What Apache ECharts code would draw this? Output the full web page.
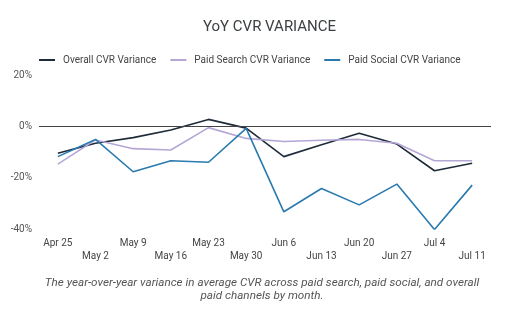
<!DOCTYPE html>
<html>
<head>
<meta charset="utf-8">
<script src="https://cdn.jsdelivr.net/npm/echarts@6/dist/echarts.min.js"></script>
<style>html,body{margin:0;padding:0;background:#fff}#c{width:512px;height:325px}</style>
</head>
<body>
<div id="c"></div>
<script>
var categories = ['Apr 25','May 2','May 9','May 16','May 23','May 30','Jun 6','Jun 13','Jun 20','Jun 27','Jul 4','Jul 11'];
var overall = [-10.5,-6.6,-4.4,-1.4,2.7,-0.7,-11.8,-7.2,-2.7,-6.9,-17.3,-14.4];
var paidSearch = [-14.7,-5.3,-8.7,-9.2,-0.5,-4.7,-5.9,-5.4,-5.1,-6.6,-13.4,-13.4];
var paidSocial = [-11.8,-5.1,-17.7,-13.4,-14.0,-0.8,-33.3,-24.2,-30.6,-22.5,-40.2,-22.9];
var yTicks = [-40,-20,0,20];
var titleText = 'YoY CVR VARIANCE';
var captionText = 'The year-over-year variance in average CVR across paid search, paid social, and overall\npaid channels by month.';

var chart = echarts.init(document.getElementById('c'));
var font = 'Roboto';
chart.setOption({
  animation: false,
  title: {
    text: titleText, left: 198, top: 15,
    textStyle: {fontFamily: font, fontSize: 15, fontWeight: 'normal', color: '#3c4043'}
  },
  graphic: [{
    type: 'text', x: 262, y: 277, silent: true,
    style: {text: captionText, font: 'italic 11.7px Roboto', fill: '#555', lineHeight: 13, align: 'center', verticalAlign: 'top'}
  }],
  legend: {
    top: 50, left: 34, width: 478, itemWidth: 16, itemHeight: 2, icon: 'rect', itemGap: 14,
    textStyle: {fontFamily: font, fontSize: 10, color: '#444', padding: [0, 0, 0, 3]},
    data: ['Overall CVR Variance','Paid Search CVR Variance','Paid Social CVR Variance']
  },
  grid: {left: 39, right: 21, top: 75, bottom: 96},
  xAxis: {
    type: 'category', data: categories, boundaryGap: true,
    axisLine: {show: false}, axisTick: {show: false},
    axisLabel: {
      interval: 0, margin: 8, fontFamily: font, fontSize: 10, color: '#444', lineHeight: 13,
      formatter: function(v, i){ return i % 2 ? '\n' + v : v; }
    }
  },
  yAxis: {
    type: 'value', min: -40, max: 20, interval: 20,
    splitLine: {show: false}, axisLine: {show: false}, axisTick: {show: false},
    axisLabel: {margin: 7, fontFamily: font, fontSize: 10, color: '#555', formatter: function(v){ return yTicks.indexOf(v) >= 0 ? v + '%' : ''; }}
  },
  series: [{
    name: 'Overall CVR Variance', type: 'line', data: overall, symbol: 'none',
    lineStyle: {color: '#1d2b3a', width: 1.6}, itemStyle: {color: '#1d2b3a'},
    markLine: {silent: true, symbol: 'none', label: {show: false}, lineStyle: {color: '#444', width: 1, type: 'solid'}, data: [{yAxis: 0}]}
  },{
    name: 'Paid Search CVR Variance', type: 'line', data: paidSearch, symbol: 'none',
    lineStyle: {color: '#b4a7d6', width: 1.6}, itemStyle: {color: '#b4a7d6'}
  },{
    name: 'Paid Social CVR Variance', type: 'line', data: paidSocial, symbol: 'none',
    lineStyle: {color: '#2a7ab0', width: 1.6}, itemStyle: {color: '#2a7ab0'}
  }]
});
</script>
</body>
</html>
